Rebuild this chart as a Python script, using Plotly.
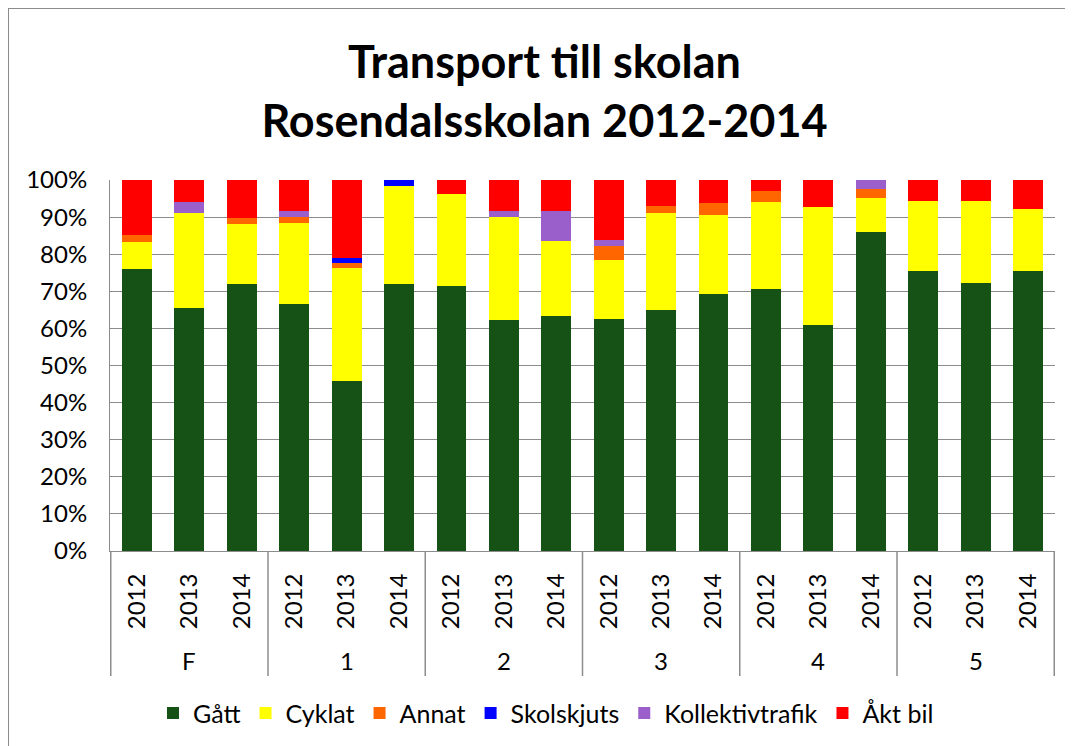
import plotly.graph_objects as go

groups = ["F", "F", "F", "1", "1", "1", "2", "2", "2", "3", "3", "3", "4", "4", "4", "5", "5", "5"]
years = ["2012", "2013", "2014"] * 6

gatt = [75.9, 65.5, 72.0, 66.6, 45.9, 72.0, 71.5, 62.2, 63.3, 62.5, 64.9, 69.2, 70.5, 60.9, 85.9, 75.6, 72.2, 75.4]
cyklat = [7.4, 25.5, 16.1, 21.7, 30.3, 26.5, 24.7, 27.9, 20.3, 16.0, 26.2, 21.5, 23.6, 31.7, 9.3, 18.8, 22.2, 16.9]
annat = [1.9, 0, 1.6, 1.6, 1.5, 0, 0, 0, 0, 3.6, 1.9, 3.1, 2.9, 0, 2.4, 0, 0, 0]
skolskjuts = [0, 0, 0, 0, 1.4, 1.5, 0, 0, 0, 0, 0, 0, 0, 0, 0, 0, 0, 0]
kollektiv = [0, 3.0, 0, 1.8, 0, 0, 0, 1.6, 8.1, 1.7, 0, 0, 0, 0, 2.4, 0, 0, 0]
akt_bil = [14.8, 6.0, 10.3, 8.3, 20.9, 0, 3.8, 8.3, 8.3, 16.2, 7.0, 6.2, 3.0, 7.4, 0, 5.6, 5.6, 7.7]

series = [
    ("Gått", gatt, "#165216"),
    ("Cyklat", cyklat, "#FFFF00"),
    ("Annat", annat, "#FF6600"),
    ("Skolskjuts", skolskjuts, "#0000FF"),
    ("Kollektivtrafik", kollektiv, "#9B5FCC"),
    ("Åkt bil", akt_bil, "#FF0000"),
]

FONT = "Lato"
L, T, PW, PH = 102, 172, 945, 371
W, H = 1073, 746
R, B = W - L - PW, H - T - PH
GRAY = "#8c8c8c"

keys = [f"{g} {y}" for g, y in zip(groups, years)]
group_names = list(dict.fromkeys(groups))

fig = go.Figure()
for name, vals, col in series:
    fig.add_trace(go.Bar(
        x=keys, y=[v / 100 for v in vals], name=name,
        marker=dict(color=col, line=dict(width=0)),
    ))

shapes = [dict(
    type="rect", xref="paper", yref="paper",
    x0=-L / PW, x1=1 + R / PW, y0=-B / PH, y1=1 + T / PH,
    line=dict(color=GRAY, width=2), fillcolor="rgba(0,0,0,0)", layer="below",
)]
annotations = []
for gi, g in enumerate(group_names):
    idx = [i for i, gg in enumerate(groups) if gg == g]
    left, right = min(idx) - 0.5, max(idx) + 0.5
    for xv in ([left] if gi == 0 else []) + [right]:
        shapes.append(dict(
            type="line", xref="x", yref="paper", x0=xv, x1=xv,
            y0=0, y1=-125 / PH, line=dict(color=GRAY, width=1.5),
        ))
    annotations.append(dict(
        x=(left + right) / 2, xref="x", y=-109 / PH, yref="paper",
        text=g, showarrow=False, xanchor="center", yanchor="middle",
        font=dict(family=FONT, size=24, color="black"),
    ))

fig.update_layout(
    barmode="stack",
    bargap=0.43,
    width=W, height=H,
    margin=dict(l=L, r=R, t=T, b=B, autoexpand=False),
    paper_bgcolor="white", plot_bgcolor="white",
    font=dict(family=FONT, size=24, color="black"),
    title=dict(
        text="<b>Transport till skolan</b><br><b>Rosendalsskolan 2012-2014</b>",
        x=0.5, xanchor="center", y=0.906, yanchor="middle",
        font=dict(family=FONT, size=45, color="black"),
    ),
    legend=dict(
        orientation="h", x=(145 - L) / PW, xanchor="left", y=-0.437, yanchor="middle",
        font=dict(family=FONT, size=25), itemwidth=30, traceorder="normal",
    ),
    yaxis=dict(
        range=[0, 1], dtick=0.1, tickformat=".0%", automargin=False,
        showgrid=True, gridcolor=GRAY, gridwidth=1,
        showline=True, linecolor=GRAY, linewidth=1,
        ticks="", tickfont=dict(size=24), zeroline=False, ticklabelstandoff=17,
    ),
    xaxis=dict(
        type="category", tickangle=-90, automargin=False,
        tickmode="array", tickvals=keys, ticktext=years,
        showline=True, linecolor=GRAY, linewidth=1, showgrid=False,
        tickfont=dict(size=24), ticks="", ticklabelstandoff=12,
    ),
    shapes=shapes,
    annotations=annotations,
)

fig.write_html("out.html")
